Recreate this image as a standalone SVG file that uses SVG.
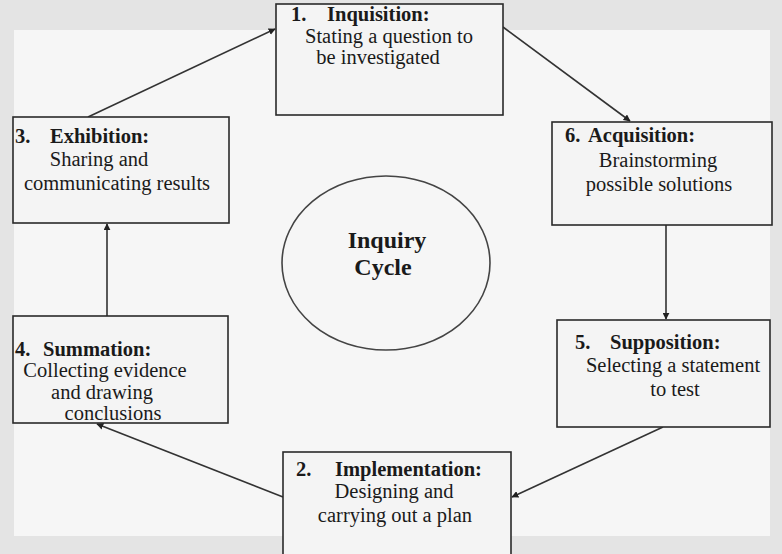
<svg xmlns="http://www.w3.org/2000/svg" width="782" height="554" viewBox="0 0 782 554">
  <style>
    .box { fill: #f4f4f4; stroke: #2a2a2a; stroke-width: 1.6; }
    .t { font-family: "Liberation Serif", "Times New Roman", "DejaVu Serif", serif; font-size: 20.5px; fill: #1a1a1a; }
    .b { font-weight: bold; }
    .c { text-anchor: middle; }
    .conn { stroke: #333; stroke-width: 1.6; fill: none; marker-end: url(#ah); }
  </style>
  <defs>
    <marker id="ah" viewBox="0 0 10 10" refX="9" refY="5" markerWidth="7" markerHeight="7" markerUnits="userSpaceOnUse" orient="auto">
      <path d="M0,0 L10,5 L0,10 z" fill="#222"/>
    </marker>
  </defs>
  <rect x="0" y="0" width="782" height="554" fill="#e4e4e4"/>
  <rect x="14" y="30" width="756" height="506" fill="#f6f6f6"/>

  <g id="connectors">
    <line class="conn" x1="88" y1="117" x2="275" y2="29"/>
    <line class="conn" x1="503" y1="27" x2="630" y2="121"/>
    <line class="conn" x1="666" y1="225" x2="666" y2="319"/>
    <line class="conn" x1="663" y1="427" x2="512" y2="497"/>
    <line class="conn" x1="283" y1="497" x2="97" y2="424"/>
    <line class="conn" x1="107" y1="316" x2="107" y2="224"/>
  </g>

  <g id="node1">
    <rect class="box" x="276" y="4" width="227" height="111"/>
    <text class="t b" x="291" y="21">1.</text>
    <text class="t b" x="327" y="21">Inquisition:</text>
    <text class="t c" x="389" y="43">Stating a question to</text>
    <text class="t c" x="378" y="64">be investigated</text>
  </g>

  <g id="node6">
    <rect class="box" x="552" y="122" width="220" height="103"/>
    <text class="t b" x="565" y="142">6.</text>
    <text class="t b" x="588" y="142">Acquisition:</text>
    <text class="t c" x="658" y="167">Brainstorming</text>
    <text class="t c" x="659" y="191">possible solutions</text>
  </g>

  <g id="node5">
    <rect class="box" x="557" y="320" width="213" height="107"/>
    <text class="t b" x="575" y="349">5.</text>
    <text class="t b" x="610" y="349">Supposition:</text>
    <text class="t c" x="673" y="372">Selecting a statement</text>
    <text class="t c" x="675" y="396">to test</text>
  </g>

  <g id="node2">
    <rect class="box" x="283" y="452" width="228" height="110"/>
    <text class="t b" x="296" y="476">2.</text>
    <text class="t b" x="335" y="476">Implementation:</text>
    <text class="t c" x="394" y="498">Designing and</text>
    <text class="t c" x="395" y="522">carrying out a plan</text>
  </g>

  <g id="node4">
    <rect class="box" x="13" y="316" width="215" height="107"/>
    <text class="t b" x="15" y="356">4.</text>
    <text class="t b" x="43" y="356">Summation:</text>
    <text class="t c" x="105" y="377">Collecting evidence</text>
    <text class="t c" x="102" y="399">and drawing</text>
    <text class="t c" x="113" y="420">conclusions</text>
  </g>

  <g id="node3">
    <rect class="box" x="13" y="117" width="216" height="106"/>
    <text class="t b" x="15" y="143">3.</text>
    <text class="t b" x="50" y="143">Exhibition:</text>
    <text class="t c" x="99" y="166">Sharing and</text>
    <text class="t c" x="117" y="190">communicating results</text>
  </g>

  <g id="center">
    <ellipse cx="386" cy="263" rx="104" ry="87" fill="none" stroke="#444" stroke-width="1.6"/>
    <text class="t b c" x="387" y="248" style="font-size:24px">Inquiry</text>
    <text class="t b c" x="383" y="275" style="font-size:24px">Cycle</text>
  </g>
</svg>
